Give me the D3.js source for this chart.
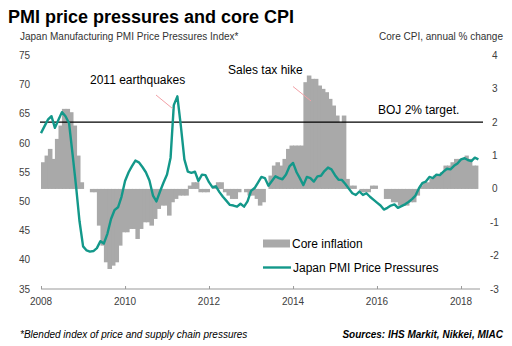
<!DOCTYPE html>
<html><head><meta charset="utf-8">
<script src="https://cdn.jsdelivr.net/npm/d3@7/dist/d3.min.js"></script>
<style>
body{margin:0;background:#fff;}
svg{display:block;font-family:"Liberation Sans",Arial,sans-serif;}
</style></head>
<body><svg id="c" width="512" height="346"></svg>
<script>
// Core CPI, annual % change (monthly, from Jan 2008)
const coreCPI = [
 0.8, 1.0, 1.2, 0.9, 1.5, 1.9, 2.4, 2.4, 2.3, 1.9, 1.0, 0.2,
 0.0, 0.0, -0.1, -0.1, -1.1, -1.7, -2.2, -2.4, -2.3, -2.2, -1.7, -1.3,
 -1.3, -1.2, -1.2, -1.5, -1.2, -1.0, -1.0, -1.1, -0.9, -0.6, -0.5, -0.5,
 -0.8, -0.4, -0.3, -0.2, -0.2, -0.2, 0.1, 0.2, 0.2, -0.1, -0.1, -0.1,
 0.0, 0.1, 0.2, 0.2, -0.1, -0.2, -0.3, -0.3, -0.1, 0.0, -0.1, -0.2,
 -0.2, -0.3, -0.5, -0.4, 0.0, 0.4, 0.7, 0.8, 0.7, 0.9, 1.2, 1.3,
 1.3, 1.3, 1.3, 3.2, 3.4, 3.3, 3.3, 3.1, 3.0, 2.9, 2.7, 2.5,
 2.2, 2.0, 2.2, 0.3, 0.1, 0.1, 0.0, -0.1, -0.1, -0.1, 0.1, 0.1,
 0.0, 0.0, -0.3, -0.3, -0.4, -0.4, -0.5, -0.5, -0.5, -0.4, -0.4, -0.2,
 0.1, 0.2, 0.2, 0.3, 0.4, 0.4, 0.5, 0.7, 0.7, 0.8, 0.9, 0.9,
 0.9, 1.0, 0.9, 0.7, 0.7
];
// Japan Manufacturing PMI Price Pressures Index (monthly, from Jan 2008)
const pmiPrice = [
 61.7, 62.9, 64.0, 64.6, 62.6, 64.0, 65.3, 64.6, 63.4, 58.2, 52.6, 46.6,
 42.3, 41.6, 41.4, 41.5, 42.0, 43.2, 42.8, 44.5, 47.0, 48.5, 49.0, 50.8,
 53.5, 55.0, 56.0, 57.0, 56.7, 55.9, 55.0, 53.6, 51.0, 50.0, 51.7, 53.2,
 54.6, 57.5, 66.5, 68.0, 63.0, 57.2, 55.1, 54.9, 55.1, 53.5, 54.6, 54.5,
 53.3, 52.4, 52.6, 51.6, 50.8, 50.1, 49.4, 49.3, 49.1, 49.6, 49.1, 50.0,
 51.8, 52.3, 53.2, 54.2, 54.0, 52.7, 53.5, 54.3, 54.0, 53.8, 54.6, 56.0,
 56.6, 55.0, 54.0, 52.8, 54.2, 54.0, 53.4, 54.3, 54.4, 55.2, 55.8, 55.5,
 54.5, 53.7, 53.7, 53.0, 52.2, 51.4, 51.1, 51.7, 51.1, 51.4, 50.8, 50.3,
 49.8, 49.3, 48.6, 48.9, 49.3, 49.5, 48.9, 49.2, 49.5, 49.9, 50.4, 51.0,
 52.3, 53.2, 53.4, 54.2, 54.0, 54.6, 54.5, 55.1, 55.6, 55.5, 56.1, 56.5,
 57.2, 57.4, 57.1, 56.9, 57.5, 57.2
];
const startYear = 2008;
const xTickYears = [2008, 2010, 2012, 2014, 2016, 2018];
const leftTicks = [35, 40, 45, 50, 55, 60, 65, 70, 75];
const rightTicks = [-3, -2, -1, 0, 1, 2, 3, 4];
const bojTarget = 2;

const svg = d3.select("#c");
const months = i => new Date(startYear, i, 1);

const x = d3.scaleTime().domain([new Date(2008,0,1), new Date(2018,5,15)]).range([41, 480]);
const yL = d3.scaleLinear().domain([35, 75]).range([289, 55.5]);
const yR = d3.scaleLinear().domain([-3, 4]).range([289, 55.5]);

// bars (slight overlap so adjacent bars form a solid block)
svg.append("g").selectAll("rect").data(coreCPI).join("rect")
  .attr("x", (d,i) => x(months(i)))
  .attr("width", (d,i) => x(months(i+1)) - x(months(i)) + (i < coreCPI.length - 1 ? 1 : 0))
  .attr("y", d => Math.min(yR(d), yR(0)))
  .attr("height", d => Math.abs(yR(d) - yR(0)))
  .attr("fill", "#a9a9a9");

// BOJ target line
svg.append("line").attr("x1", 40).attr("x2", 483)
  .attr("y1", yR(bojTarget)).attr("y2", yR(bojTarget))
  .attr("stroke", "#000").attr("stroke-width", 1.3);

// PMI line
const line = d3.line().x((d,i) => x(months(i))).y(d => yL(d));
svg.append("path").datum(pmiPrice).attr("d", line)
  .attr("fill", "none").attr("stroke", "#13988a").attr("stroke-width", 2.4)
  .attr("stroke-linejoin", "round");

// x axis
const xAxis = d3.axisTop(x).tickValues(xTickYears.map(y => new Date(y,0,1)))
  .tickSize(3).tickFormat("");
const gx = svg.append("g").attr("transform", "translate(0,289)").call(xAxis);
gx.select(".domain").attr("stroke", "#9a9a9a").attr("stroke-width", 1.2).attr("d", "M41,0H480");
gx.selectAll(".tick line").attr("stroke", "#9a9a9a");
svg.append("g").selectAll("text").data(xTickYears).join("text")
  .attr("x", d => x(new Date(d,0,1))).attr("y", 305)
  .attr("text-anchor", "middle").attr("font-size", 10).attr("fill", "#404040")
  .text(d => d);

// left axis labels
svg.append("g").selectAll("text").data(leftTicks).join("text")
  .attr("x", 30).attr("y", d => yL(d) + 3.5)
  .attr("text-anchor", "end").attr("font-size", 10).attr("fill", "#404040")
  .text(d => d);
// right axis labels
svg.append("g").selectAll("text").data(rightTicks).join("text")
  .attr("x", d => d < 0 ? 490 : 492).attr("y", d => yR(d) + 3.5)
  .attr("text-anchor", "start").attr("font-size", 10).attr("fill", "#404040")
  .text(d => d);

// titles
svg.append("text").attr("x", 8).attr("y", 23).attr("font-size", 18).attr("font-weight", "bold")
  .attr("fill", "#000").text("PMI price pressures and core CPI");
svg.append("text").attr("x", 20).attr("y", 40).attr("font-size", 10).attr("fill", "#333")
  .text("Japan Manufacturing PMI Price Pressures Index*");
svg.append("text").attr("x", 503).attr("y", 40).attr("font-size", 10).attr("fill", "#333")
  .attr("text-anchor", "end").text("Core CPI, annual % change");

// annotations
svg.append("text").attr("x", 90).attr("y", 84).attr("font-size", 12).attr("fill", "#000").text("2011 earthquakes");
svg.append("line").attr("x1", 156).attr("y1", 95).attr("x2", 172.5).attr("y2", 108.5)
  .attr("stroke", "#f2a0a6").attr("stroke-width", 1);
svg.append("text").attr("x", 228).attr("y", 74).attr("font-size", 12).attr("fill", "#000").text("Sales tax hike");
svg.append("line").attr("x1", 293).attr("y1", 86.5).attr("x2", 311).attr("y2", 101)
  .attr("stroke", "#f2a0a6").attr("stroke-width", 1);
svg.append("text").attr("x", 378).attr("y", 114).attr("font-size", 12).attr("fill", "#000").text("BOJ 2% target.");

// legend
svg.append("rect").attr("x", 263).attr("y", 239.5).attr("width", 27).attr("height", 8).attr("fill", "#a9a9a9");
svg.append("text").attr("x", 292).attr("y", 247.5).attr("font-size", 12).attr("fill", "#000").text("Core inflation");
svg.append("line").attr("x1", 263).attr("x2", 291).attr("y1", 267.5).attr("y2", 267.5)
  .attr("stroke", "#13988a").attr("stroke-width", 2.4);
svg.append("text").attr("x", 293).attr("y", 271.5).attr("font-size", 12).attr("fill", "#000").text("Japan PMI Price Pressures");

// footer
svg.append("text").attr("x", 20).attr("y", 338).attr("font-size", 10).attr("font-style", "italic")
  .attr("fill", "#000").text("*Blended index of price and supply chain pressures");
svg.append("text").attr("x", 503).attr("y", 338).attr("font-size", 10).attr("font-style", "italic")
  .attr("font-weight", "bold").attr("text-anchor", "end").attr("fill", "#000")
  .text("Sources: IHS Markit, Nikkei, MIAC");
</script></body></html>
